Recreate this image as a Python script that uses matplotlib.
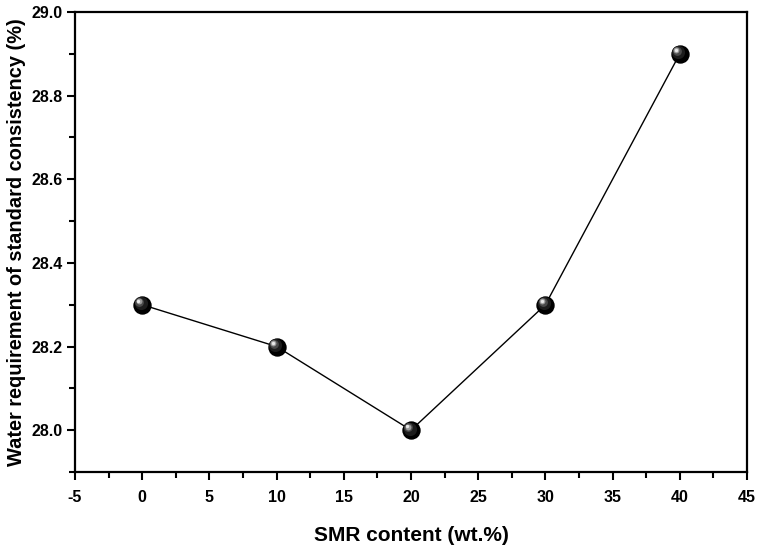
import matplotlib
matplotlib.use("Agg")
import matplotlib.pyplot as plt
from matplotlib.ticker import MultipleLocator, FormatStrFormatter
from matplotlib.transforms import offset_copy

plt.rcParams['font.family'] = ['Liberation Sans', 'DejaVu Sans']
plt.rcParams['font.weight'] = 'bold'
plt.rcParams['axes.unicode_minus'] = False

smr = [0, 10, 20, 30, 40]
water = [28.3, 28.2, 28.0, 28.3, 28.9]

fig = plt.figure(figsize=(7.62, 5.45), dpi=100)
ax = fig.add_axes([75/762, 1-472/545, (747-75)/762, (472-12)/545])

ax.plot(smr, water, color='black', lw=1.0, zorder=2)
# sphere-like markers: dark body plus layered highlights
ax.scatter(smr, water, s=175, color='black', zorder=3, linewidths=0)
ax.scatter(smr, water, s=90, color='#1c1c1c', zorder=4, linewidths=0,
           transform=offset_copy(ax.transData, fig=fig, x=-1.0, y=1.0, units='points'))
ax.scatter(smr, water, s=40, color='#4a4a4a', zorder=5, linewidths=0,
           transform=offset_copy(ax.transData, fig=fig, x=-2.0, y=2.0, units='points'))
ax.scatter(smr, water, s=18, color='#9a9a9a', zorder=6, linewidths=0,
           transform=offset_copy(ax.transData, fig=fig, x=-2.5, y=2.5, units='points'))
ax.scatter(smr, water, s=6, color='#e8e8e8', zorder=7, linewidths=0,
           transform=offset_copy(ax.transData, fig=fig, x=-2.7, y=2.7, units='points'))

ax.set_xlim(-5, 45)
ax.set_ylim(27.9, 29.0)
ax.xaxis.set_major_locator(MultipleLocator(5))
ax.xaxis.set_minor_locator(MultipleLocator(2.5))
ax.set_yticks([28.0, 28.2, 28.4, 28.6, 28.8, 29.0])
ax.yaxis.set_minor_locator(MultipleLocator(0.1))
ax.yaxis.set_major_formatter(FormatStrFormatter('%.1f'))

for s in ax.spines.values():
    s.set_linewidth(1.6)
ax.tick_params(which='major', direction='out', length=6, width=1.5, labelsize=11.5)
ax.tick_params(axis='x', which='major', pad=7)
ax.tick_params(axis='y', which='major', pad=3)
ax.tick_params(which='minor', direction='out', length=4, width=1.5)
ax.tick_params(top=False, right=False, which='both')

ax.set_xlabel('SMR content (wt.%)', fontsize=15, fontweight='bold', labelpad=15)
ax.set_ylabel('Water requirement of standard consistency (%)', fontsize=14.4,
              fontweight='bold', labelpad=4)

fig.savefig('out.png', dpi=100)
